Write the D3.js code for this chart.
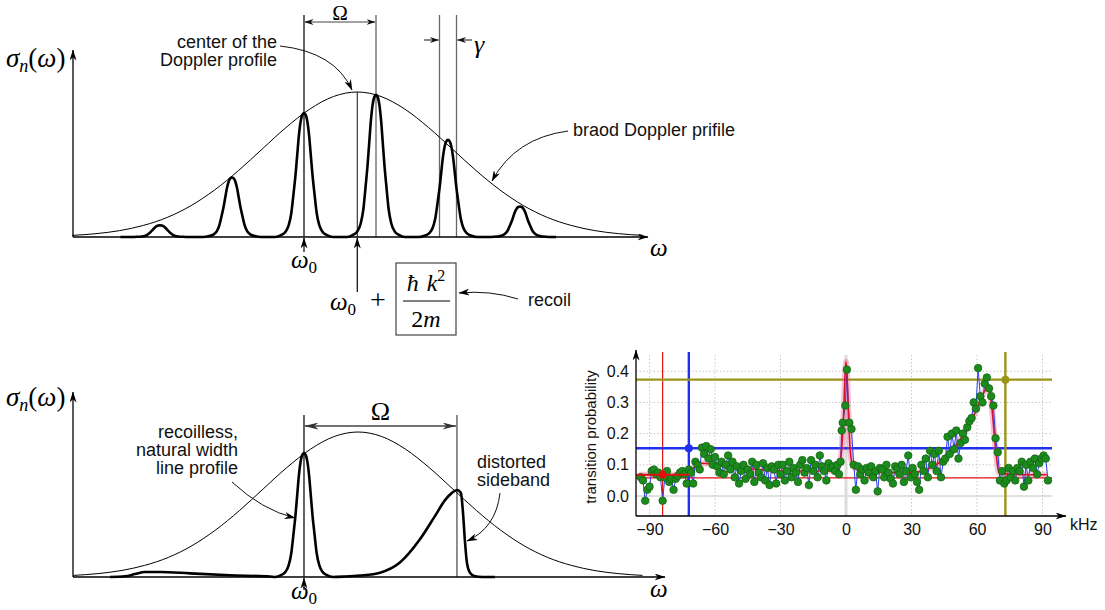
<!DOCTYPE html>
<html><head><meta charset="utf-8">
<script src="https://cdn.jsdelivr.net/npm/d3@7"></script>
<style>body{margin:0;background:#fff}svg{display:block}</style>
</head><body>
<svg id="c" width="1105" height="610"></svg>
<script>
// ================= DATA =================
// Doppler (Gaussian) envelope, offset in units of the Doppler width, relative height
const dopplerOffset = [-3,-2.75,-2.5,-2.25,-2,-1.75,-1.5,-1.25,-1,-0.75,-0.5,-0.25,0,0.25,0.5,0.75,1,1.25,1.5,1.75,2,2.25,2.5,2.75,3];
const dopplerValue  = [0.011,0.023,0.044,0.080,0.135,0.216,0.325,0.458,0.607,0.755,0.882,0.969,1,0.969,0.882,0.755,0.607,0.458,0.325,0.216,0.135,0.080,0.044,0.023,0.011];
// natural line profile, offset in units of gamma (FWHM), relative height
const lineOffset = [-1.7,-1.35,-1.1,-0.9,-0.75,-0.6,-0.5,-0.4,-0.3,-0.2,-0.1,0,0.1,0.2,0.3,0.4,0.5,0.6,0.75,0.9,1.1,1.35,1.7];
const lineValue  = [0,0.015,0.04,0.095,0.19,0.37,0.5,0.66,0.82,0.93,0.985,1,0.985,0.93,0.82,0.66,0.5,0.37,0.19,0.095,0.04,0.015,0];
// top panel: sideband comb (order n in units of Omega) and heights
const combOrder  = [-2,-1,0,1,2,3];
const combHeight = [0.08,0.41,0.855,0.98,0.67,0.21];
const topCenter = 0.74, topWidth = 1.32, topGamma = 0.236, topCombStart = -2.55, topCombEnd = 3.5;
// bottom panel
const botCenter = 0.353, botWidth = 0.62, botGamma = 0.111, botPeakHeight = 0.855;
const leftBumpW = [-1.268,-1.17,-1.105,-1.04,-0.94,-0.745,-0.484,-0.222,-0.19];
const leftBumpH = [0,0.005,0.02,0.035,0.035,0.025,0.012,0.003,0];
const sidebandW = [0.19,0.268,0.366,0.497,0.627,0.758,0.856,0.922,0.967,1.0,1.026,1.039,1.052,1.065,1.085,1.118,1.163,1.248];
const sidebandH = [0,0.003,0.01,0.03,0.10,0.26,0.42,0.53,0.58,0.6,0.58,0.45,0.25,0.1,0.03,0.005,0,0];

// experimental spectrum
const freqKHz = [-94,-93,-92,-91,-90,-89,-88,-87,-86,-85,-84,-83,-82,-81,-80,-79,-78,-77,-76,-75,-74,-73,-72,-71,-70,-69,-68,-67,-66,-65,-64,-63,-62,-61,-60,-59,-58,-57,-56,-55,-54,-53,-52,-51,-50,-49,-48,-47,-46,-45,-44,-43,-42,-41,-40,-39,-38,-37,-36,-35,-34,-33,-32,-31,-30,-29,-28,-27,-26,-25,-24,-23,-22,-21,-20,-19,-18,-17,-16,-15,-14,-13,-12,-11,-10,-9,-8,-7,-6,-5,-4,-3.2,-2.5,-2,-1.5,-0.3,0.4,1.5,2.5,3.5,4.5,5.5,6.5,7.5,8.5,9.5,10.5,11.5,12.5,13.5,14.5,15.5,16.5,17.5,18.5,19.5,20.5,21.5,22.5,23.5,24.5,25.5,26.5,27.5,28.5,29.5,30.5,31.5,32.5,33.5,34.5,35.5,36.5,37.5,38.5,39.5,40.5,41.5,42.5,43.5,44.5,45.5,46.5,47.5,48.5,49.5,50.5,51.5,52.5,53.5,54.5,55.5,56.5,57.5,58.5,59.5,60.5,61.5,62.5,63.5,64.5,65.5,66.5,67.5,68.5,69.5,70.5,71.5,72.5,73.5,74.5,75.5,76.5,77.5,78.5,79.5,80.5,81.5,82.5,83.5,84.5,85.5,86.5,87.5,88.5,89.5,90.5,91.5,92.5];
const probability = [0.06,0.05,-0.015,0.02,0.03,0.08,0.085,0.07,0.075,0.06,-0.015,0.06,0.08,0.045,0.055,0.02,0.055,0.065,0.075,0.08,0.07,0.04,0.085,0.075,0.04,0.11,0.1,0.085,0.155,0.135,0.16,0.12,0.15,0.1,0.125,0.095,0.075,0.11,0.07,0.1,0.13,0.085,0.11,0.06,0.095,0.04,0.08,0.1,0.055,0.085,0.07,0.11,0.045,0.1,0.075,0.06,0.105,0.05,0.09,0.035,0.095,0.085,0.04,0.1,0.07,0.1,0.05,0.08,0.11,0.06,0.09,0.075,0.045,0.1,0.115,0.075,0.09,0.035,0.115,0.08,0.1,0.06,0.13,0.095,0.08,0.05,0.105,0.09,0.095,0.08,0.1,0.07,0.11,0.21,0.235,0.29,0.405,0.235,0.215,0.1,0.02,0.095,0.07,0.085,0.05,0.09,0.075,0.095,0.06,0.08,0.015,0.09,0.085,0.06,0.1,0.075,0.055,0.04,0.095,0.085,0.07,0.1,0.045,0.08,0.13,0.06,0.09,0.07,0.045,0.02,0.1,0.08,0.12,0.06,0.145,0.1,0.135,0.08,0.145,0.06,0.11,0.12,0.19,0.135,0.2,0.15,0.21,0.12,0.17,0.2,0.18,0.22,0.24,0.25,0.3,0.28,0.41,0.32,0.3,0.36,0.38,0.345,0.32,0.29,0.185,0.14,0.05,0.08,0.04,0.05,0.09,0.06,0.08,0.05,0.09,0.08,0.11,0.03,0.1,0.05,0.11,0.09,0.12,0.07,0.105,0.12,0.13,0.12,0.05];
const fitKHz  = [-95,-85,-75,-70,-66,-60,-50,-40,-30,-20,-10,-5,-3,-2,-1,-0.5,0,0.5,1,2,3,5,10,20,30,35,40,45,50,55,60,63,65,66,67,68,69,70,75,85,92];
const fitProb = [0.068,0.068,0.07,0.09,0.105,0.1,0.09,0.085,0.08,0.08,0.08,0.085,0.1,0.15,0.28,0.38,0.43,0.38,0.28,0.14,0.1,0.085,0.08,0.075,0.075,0.08,0.095,0.12,0.16,0.21,0.28,0.33,0.35,0.33,0.27,0.19,0.12,0.075,0.07,0.068,0.068];
const cursorKHz   = [-84, -72, 73];
const cursorProb  = [0.068, 0.153, 0.373];
const cursorColor = ["#e01010", "#2030ee", "#9a9418"];
const baselineProb = 0.058;
const kHzTicks  = [-90,-60,-30,0,30,60,90];
const probTicks = [0,0.1,0.2,0.3,0.4];

// ================= DRAW =================
const svg = d3.select('#c');
const defs = svg.append('defs');
function mk(id, color, w, h){
  defs.append('marker').attr('id',id).attr('viewBox',`0 0 ${w} ${h}`).attr('refX',w-0.5).attr('refY',h/2)
    .attr('markerWidth',w).attr('markerHeight',h).attr('markerUnits','userSpaceOnUse').attr('orient','auto-start-reverse')
    .append('path').attr('d',`M0,0 L${w},${h/2} L0,${h} L${w*0.3},${h/2} Z`).attr('fill',color);
}
mk('ah','#000',11,7); mk('ahs','#111',9,6); mk('ahg','#333',14,7);

const SERIF = "'Liberation Serif','DejaVu Serif',serif";
const SANS  = "'Liberation Sans',Arial,sans-serif";
function sigmaLabel(x, y){
  const t = svg.append('text').attr('x',x).attr('y',y).attr('font-family',SERIF).attr('font-size',27);
  t.append('tspan').attr('font-style','italic').text('σ');
  t.append('tspan').attr('font-style','italic').attr('font-size',18).attr('dy',5).text('n');
  t.append('tspan').attr('dy',-5).text('(');
  t.append('tspan').attr('font-style','italic').text('ω');
  t.append('tspan').text(')');
}
function omega0(x, y, anchor){
  const t = svg.append('text').attr('x',x).attr('y',y).attr('font-family',SERIF).attr('font-size',25).attr('text-anchor',anchor||'middle');
  t.append('tspan').attr('font-style','italic').text('ω');
  t.append('tspan').attr('font-size',17).attr('dy',5).text('0');
  return t;
}
function sans(x,y,txt,anchor,size){
  svg.append('text').attr('x',x).attr('y',y).attr('font-family',SANS).attr('font-size',size||18).attr('text-anchor',anchor||'start').attr('fill','#111').text(txt);
}
function curveArrow(p0, c, p1, m){
  svg.append('path').attr('d',`M${p0[0]},${p0[1]} Q${c[0]},${c[1]} ${p1[0]},${p1[1]}`).attr('fill','none').attr('stroke','#111').attr('stroke-width',1).attr('marker-end',`url(#${m||'ah'})`);
}
function seg(x1,y1,x2,y2,color,w,mStart,mEnd){
  const l = svg.append('line').attr('x1',x1).attr('y1',y1).attr('x2',x2).attr('y2',y2).attr('stroke',color).attr('stroke-width',w);
  if(mStart) l.attr('marker-start',`url(#${mStart})`);
  if(mEnd) l.attr('marker-end',`url(#${mEnd})`);
  return l;
}

// ---------- TOP PANEL ----------
const xT = d3.scaleLinear().domain([-3.2, 4.75]).range([73.6, 646]);
const yT = d3.scaleLinear().domain([0,1]).range([237, 92]);
const lineT = d3.line().x(d=>xT(d[0])).y(d=>yT(d[1])).curve(d3.curveMonotoneX);

seg(xT(0),15,xT(0),237,'#111',1.3);
seg(xT(1),15,xT(1),237,'#666',1.3);
seg(xT(2-topGamma/2),15,xT(2-topGamma/2),237,'#666',1.3);
seg(xT(2+topGamma/2),15,xT(2+topGamma/2),237,'#666',1.3);
seg(xT(topCenter),yT(1),xT(topCenter),237,'#111',1);

seg(73,237,73,50,'#000',1.3,null,'ah');
seg(73,237,648,237,'#000',1.3,null,'ah');

svg.append('path').attr('d',lineT(dopplerOffset.map((o,i)=>[topCenter+o*topWidth, dopplerValue[i]])))
  .attr('fill','none').attr('stroke','#000').attr('stroke-width',1);
const comb = [[topCombStart,0]];
combOrder.forEach((n,k)=>{ lineOffset.forEach((o,i)=>comb.push([n+o*topGamma, combHeight[k]*lineValue[i]])); });
comb.push([topCombEnd,0]);
svg.append('path').attr('d',lineT(comb)).attr('fill','none').attr('stroke','#000').attr('stroke-width',2.6).attr('stroke-linejoin','round');

seg(xT(0)+1,22,xT(1)-1,22,'#444',1.2,'ahs','ahs');
svg.append('text').attr('x',(xT(0)+xT(1))/2).attr('y',20).attr('text-anchor','middle').attr('font-family',SERIF).attr('font-size',21).text('Ω');
seg(424,40,xT(2-topGamma/2)-1,40,'#333',1.2,null,'ahs');
seg(472,40,xT(2+topGamma/2)+1,40,'#333',1.2,null,'ahs');
svg.append('text').attr('x',474).attr('y',53).attr('font-family',SERIF).attr('font-style','italic').attr('font-size',26).text('γ');

sigmaLabel(6,67);
svg.append('text').attr('x',650).attr('y',256).attr('font-family',SERIF).attr('font-style','italic').attr('font-size',25).text('ω');
seg(xT(0),252,xT(0),238,'#000',1.2,null,'ah');
omega0(xT(0),268);
seg(xT(topCenter),292,xT(topCenter),238,'#000',1.2,null,'ah');
omega0(343,310);
svg.append('text').attr('x',370).attr('y',309).attr('font-family',SERIF).attr('font-size',28).text('+');
svg.append('rect').attr('x',396).attr('y',263).attr('width',60).attr('height',72).attr('fill','none').attr('stroke','#444').attr('stroke-width',1.2);
{
  const t = svg.append('text').attr('x',426).attr('y',291).attr('text-anchor','middle').attr('font-family',SERIF).attr('font-size',24);
  t.append('tspan').attr('font-style','italic').text('ħ');
  t.append('tspan').attr('font-style','italic').attr('dx',8).text('k');
  t.append('tspan').attr('font-size',16).attr('dy',-10).text('2');
  seg(403,301,450,301,'#000',1);
  const b = svg.append('text').attr('x',426).attr('y',327).attr('text-anchor','middle').attr('font-family',SERIF).attr('font-size',24);
  b.append('tspan').text('2');
  b.append('tspan').attr('font-style','italic').text('m');
}
sans(528,306,'recoil');
curveArrow([518,299],[490,290],[459,293]);

sans(277,48,'center of the','end');
sans(277,66,'Doppler profile','end');
curveArrow([280,46],[335,52],[352,90]);
sans(573,136,'braod Doppler prifile');
curveArrow([568,131],[515,138],[492,181]);

// ---------- BOTTOM PANEL ----------
const xB = d3.scaleLinear().domain([-1.51, 2.36]).range([73, 665]);
const yB = d3.scaleLinear().domain([0,1]).range([577, 432]);
const lineB = d3.line().x(d=>xB(d[0])).y(d=>yB(d[1])).curve(d3.curveMonotoneX);

seg(xB(0),415,xB(0),577,'#111',1.3);
seg(xB(1),415,xB(1),577,'#222',1);
seg(73,577,665,577,'#000',1.3,null,'ah');
seg(73,577,73,392,'#000',1.3,null,'ah');

svg.append('path').attr('d',lineB(dopplerOffset.map((o,i)=>[botCenter+o*botWidth, dopplerValue[i]])))
  .attr('fill','none').attr('stroke','#000').attr('stroke-width',1);
const bot = leftBumpW.map((w,i)=>[w,leftBumpH[i]]);
lineOffset.forEach((o,i)=>bot.push([o*botGamma, botPeakHeight*lineValue[i]]));
sidebandW.forEach((w,i)=>bot.push([w,sidebandH[i]]));
svg.append('path').attr('d',lineB(bot)).attr('fill','none').attr('stroke','#000').attr('stroke-width',2.6).attr('stroke-linejoin','round');

seg(xB(0)+1,426,xB(1)-1,426,'#444',1.3,'ahg','ahg');
svg.append('text').attr('x',(xB(0)+xB(1))/2).attr('y',420).attr('text-anchor','middle').attr('font-family',SERIF).attr('font-size',26).text('Ω');
sigmaLabel(6,406);
svg.append('text').attr('x',650).attr('y',597).attr('font-family',SERIF).attr('font-style','italic').attr('font-size',25).text('ω');
seg(xB(0),590,xB(0),578,'#000',1.2,null,'ah');
omega0(xB(0),599);

sans(238,438,'recoilless,','end');
sans(238,456,'natural width','end');
sans(238,474,'line profile','end');
curveArrow([232,482],[262,510],[295,518]);
sans(477,468,'distorted');
sans(477,486,'sideband');
curveArrow([500,493],[496,528],[467,541]);

// ---------- EXPERIMENTAL PANEL ----------
const xE = d3.scaleLinear().domain([-96.2, 100.3]).range([636, 1065]);
const yE = d3.scaleLinear().domain([-0.064, 0.46]).range([516, 352.5]);
const g = svg.append('g');
kHzTicks.forEach(k=>g.append('line').attr('x1',xE(k)).attr('x2',xE(k)).attr('y1',355).attr('y2',516).attr('stroke','#c8c8c8').attr('stroke-width',1).attr('stroke-dasharray','1.5,2'));
probTicks.filter(p=>p>0).forEach(p=>g.append('line').attr('x1',636).attr('x2',1052).attr('y1',yE(p)).attr('y2',yE(p)).attr('stroke','#c8c8c8').attr('stroke-width',1).attr('stroke-dasharray','1.5,2'));
g.append('line').attr('x1',636).attr('x2',1052).attr('y1',yE(0)).attr('y2',yE(0)).attr('stroke','#c4c4c4').attr('stroke-width',1);
g.append('line').attr('x1',xE(0)).attr('x2',xE(0)).attr('y1',355).attr('y2',516).attr('stroke','#dcdcdc').attr('stroke-width',3);

g.append('line').attr('x1',636).attr('x2',1052).attr('y1',yE(baselineProb)).attr('y2',yE(baselineProb)).attr('stroke','#e01010').attr('stroke-width',1.2);
cursorKHz.forEach((k,i)=>{
  const w = i===0?1.2:2.4;
  g.append('line').attr('x1',xE(k)).attr('x2',xE(k)).attr('y1',352).attr('y2',516).attr('stroke',cursorColor[i]).attr('stroke-width',w);
  if(i>0) g.append('line').attr('x1',636).attr('x2',1052).attr('y1',yE(cursorProb[i])).attr('y2',yE(cursorProb[i])).attr('stroke',cursorColor[i]).attr('stroke-width',w);
});

const fitPts = fitKHz.map((k,i)=>[k,fitProb[i]]);
const fitLine = d3.line().x(d=>xE(d[0])).y(d=>yE(d[1])).curve(d3.curveMonotoneX);
g.append('path').attr('d',fitLine(fitPts)).attr('fill','none').attr('stroke','rgba(230,90,130,0.35)').attr('stroke-width',6);
const dataPts = freqKHz.map((k,i)=>[k,probability[i]]);
g.append('path').attr('d',d3.line().x(d=>xE(d[0])).y(d=>yE(d[1]))(dataPts)).attr('fill','none').attr('stroke','#2a3cf0').attr('stroke-width',1);
g.append('path').attr('d',fitLine(fitPts)).attr('fill','none').attr('stroke','#d81030').attr('stroke-width',1.6);
g.selectAll('circle.d').data(dataPts).enter().append('circle').attr('class','d')
  .attr('cx',d=>xE(d[0])).attr('cy',d=>yE(d[1])).attr('r',3.8).attr('fill','#1d8a1d').attr('stroke','#0e620e').attr('stroke-width',0.7);
g.append('line').attr('x1',636).attr('x2',xE(-72)).attr('y1',yE(cursorProb[0])).attr('y2',yE(cursorProb[0])).attr('stroke','#e01010').attr('stroke-width',2);
cursorKHz.forEach((k,i)=>g.append('circle').attr('cx',xE(k)).attr('cy',yE(cursorProb[i])).attr('r',4).attr('fill',cursorColor[i]));

seg(636,516,636,350,'#000',1.3,null,'ah');
seg(636,516,1066,516,'#000',1.3,null,'ah');
const xAxis = d3.axisBottom(xE).tickValues(kHzTicks).tickSize(0).tickPadding(8);
const xa = svg.append('g').attr('transform','translate(0,516)').call(xAxis);
xa.select('.domain').remove();
xa.selectAll('text').attr('font-family',SANS).attr('font-size',16).attr('fill','#111');
const yAxis = d3.axisLeft(yE).tickValues(probTicks).tickSize(0).tickPadding(7).tickFormat(d3.format('.1f'));
const ya = svg.append('g').attr('transform','translate(636,0)').call(yAxis);
ya.select('.domain').remove();
ya.selectAll('text').attr('font-family',SANS).attr('font-size',16).attr('fill','#111');
sans(1070,530,'kHz','start',16);
svg.append('text').attr('transform','translate(596,437) rotate(-90)').attr('text-anchor','middle').attr('font-family',SANS).attr('font-size',15).attr('fill','#111').text('transition probability');
</script>
</body></html>
